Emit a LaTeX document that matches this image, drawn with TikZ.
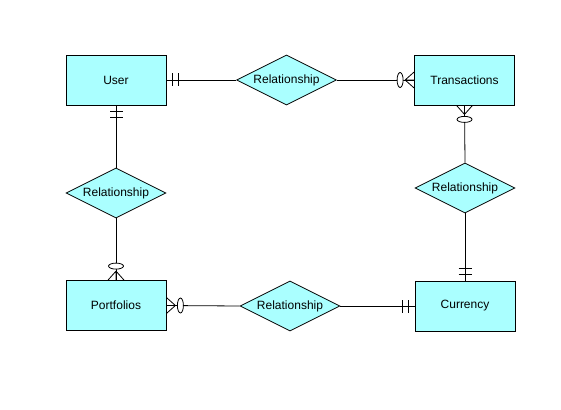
\documentclass[tikz,border=0pt]{standalone}
\usepackage{fontspec}
\setmainfont{Liberation Sans}
\usetikzlibrary{shapes.geometric}
\definecolor{boxfill}{RGB}{170,255,255}
\begin{document}
\begin{tikzpicture}[x=1pt,y=-1pt,
  entity/.style={draw=black,fill=boxfill,line width=0.8pt,minimum width=100pt,minimum height=50pt,inner sep=0pt,font=\fontsize{12}{14}\selectfont},
  rel/.style={draw=black,fill=boxfill,line width=0.8pt,shape=diamond,aspect=2,minimum width=100pt,minimum height=50pt,inner sep=0pt,font=\fontsize{12}{14}\selectfont},
  conn/.style={draw=black,line width=0.8pt},
  mandone/.pic={\draw[line width=0.8pt] (6,-6.5)--(6,6.5) (12,-6.5)--(12,6.5);},
  zeromany/.pic={\draw[line width=0.8pt] (0,-8)--(9,0)--(0,8) (0,0)--(9,0);
    \draw[line width=0.8pt,fill=white] (14,0) ellipse (3 and 7.5);}
]
\useasboundingbox (0,0) rectangle (561,409);
\node[entity] (user) at (116,80) {User};
\node[entity] (trans) at (464.5,80) {Transactions};
\node[entity] (port) at (116,305.5) {Portfolios};
\node[entity] (curr) at (465,306) {Currency};
\node[rel] (rtop) at (286.5,80) {Relationship};
\node[rel] (rleft) at (116,193) {Relationship};
\node[rel] (rright) at (465,188) {Relationship};
\node[rel] (rbot) at (290,306) {Relationship};
\draw[conn] (user.east) -- (rtop.west);
\draw[conn] (rtop.east) -- (trans.west);
\draw[conn] (user.south) -- (rleft.north);
\draw[conn] (rleft.south) -- (port.north);
\draw[conn] (trans.south) -- (rright.north);
\draw[conn] (rright.south) -- (curr.north);
\draw[conn] (port.east) -- (rbot.west);
\draw[conn] (rbot.east) -- (curr.west);
\pic[rotate=0] at (user.east) {mandone};
\pic[rotate=-90] at (user.south) {mandone};
\pic[rotate=180] at (trans.west) {zeromany};
\pic[rotate=-90] at (trans.south) {zeromany};
\pic[rotate=90] at (curr.north) {mandone};
\pic[rotate=180] at (curr.west) {mandone};
\pic[rotate=0] at (port.east) {zeromany};
\pic[rotate=90] at (port.north) {zeromany};
\end{tikzpicture}
\end{document}
